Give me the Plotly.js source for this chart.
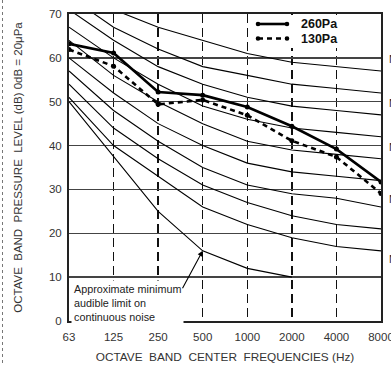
<!DOCTYPE html>
<html>
<head>
<meta charset="utf-8">
<script src="https://cdn.plot.ly/plotly-3.0.1.min.js"></script>
<style>html,body{margin:0;padding:0;background:#fff;}#chart{width:391px;height:365px;}</style>
</head>
<body>
<div id="chart"></div>
<script>
// Octave band centre frequencies (category labels)
const freqs = ['63', '125', '250', '500', '1000', '2000', '4000', '8000'];

// Noise criterion curves (dB)
const nc60 = [77, 71, 67, 64, 61, 59, 58, 57];
const nc55 = [74, 67, 62, 58, 56, 54, 53, 52];
const nc50 = [71, 64, 58, 54, 51, 49, 48, 47];
const nc45 = [67, 60, 54, 49, 46, 44, 43, 42];
const nc40 = [64, 56, 50, 45, 41, 39, 38, 37];
const nc35 = [60, 52, 45, 40, 36, 34, 33, 32];
const nc30 = [57, 48, 41, 35, 31, 29, 28, 26];
const nc25 = [54, 44, 37, 31, 27, 24, 22, 21];
const nc20 = [51, 40, 33, 26, 22, 19, 17, 16];
// Approximate minimum audible limit on continuous noise
const threshold = [50, 37.5, 25, 16, 12, 10, null, null];

// Measured spectra
const s260 = [63.2, 61.1, 52.2, 51.5, 48.8, 44.4, 39.2, 31.7];
const s130 = [61.9, 58.1, 49.4, 50.4, 46.9, 41.1, 37.4, 29.1];
const seriesNames = ['260Pa', '130Pa'];

const curveNames = ['NC-60', 'NC-55', 'NC-50', 'NC-45', 'NC-40', 'NC-35', 'NC-30', 'NC-25', 'NC-20', 'Threshold'];
const curves = [nc60, nc55, nc50, nc45, nc40, nc35, nc30, nc25, nc20, threshold];

// Side labels (clipped at right edge, as in the original)
const sideLabels = ['NC-60', 'NC-50', 'NC-40', 'NC-30', 'NC-20'];
const sideLabelY = [59.7, 49.7, 39.7, 27.8, 14.1];

const idx = freqs.map((f, i) => i);

const traces = curves.map((c, k) => ({
  x: idx, y: c, name: curveNames[k], type: 'scatter', mode: 'lines',
  line: {color: '#000', width: 1.1}, showlegend: false, hoverinfo: 'skip', connectgaps: false
}));

traces.push({
  x: idx, y: s260, name: seriesNames[0], type: 'scatter', mode: 'lines+markers', showlegend: false,
  line: {color: '#000', width: 2.6}, marker: {color: '#000', size: 5}
});
traces.push({
  x: idx, y: s130, name: seriesNames[1], type: 'scatter', mode: 'lines+markers', showlegend: false,
  line: {color: '#000', width: 2.6, dash: '5px,4px'}, marker: {color: '#000', size: 5}
});

const W = 391, H = 365, L = 69, R = 10, T = 14, B = 44;
const pw = W - L - R, ph = H - T - B;
const px2x = p => (p - L) / pw;
const py2y = p => (H - B - p) / ph;
const FONT = 'Arial, Liberation Sans, sans-serif';

const annotations = sideLabels.map((t, i) => ({
  xref: 'paper', yref: 'y', x: px2x(387), y: sideLabelY[i], text: t,
  showarrow: false, xanchor: 'left', yanchor: 'middle',
  font: {family: FONT, size: 11, color: '#222'}
}));
annotations.push({
  xref: 'paper', yref: 'paper', x: px2x(71), y: py2y(280), xanchor: 'left', yanchor: 'top',
  text: 'Approximate minimum<br>audible limit on<br>continuous noise', align: 'left', showarrow: false,
  bgcolor: '#fff', borderpad: 2,
  font: {family: FONT, size: 10.8, color: '#222'}
});
annotations.push({
  xref: 'x', yref: 'y', x: 3, y: threshold[3], text: '', showarrow: true,
  ax: -21, ay: 39, arrowhead: 2, arrowsize: 1, arrowwidth: 1.1, arrowcolor: '#000', standoff: 0
});

// Hand-drawn legend (key box, samples and labels)
const legY = [24, 38.5];
seriesNames.forEach((n, i) => {
  annotations.push({
    xref: 'paper', yref: 'paper', x: px2x(299), y: py2y(legY[i]), xanchor: 'left', yanchor: 'middle',
    text: n, showarrow: false, font: {family: FONT, size: 12.5, color: '#111', weight: 'bold'}
  });
});

const shapes = [
  {type: 'line', xref: 'paper', yref: 'paper', x0: px2x(2.5), x1: px2x(2.5), y0: py2y(0), y1: py2y(H),
   line: {color: '#777', width: 1, dash: 'dot'}},
  {type: 'rect', xref: 'paper', yref: 'paper', x0: px2x(250), x1: px2x(362), y0: py2y(15), y1: py2y(48),
   fillcolor: '#fff', line: {width: 0}, layer: 'above'},
  {type: 'line', xref: 'paper', yref: 'paper', x0: px2x(258), x1: px2x(287), y0: py2y(legY[0]), y1: py2y(legY[0]),
   line: {color: '#000', width: 2.6}, layer: 'above'},
  {type: 'line', xref: 'paper', yref: 'paper', x0: px2x(258), x1: px2x(287), y0: py2y(legY[1]), y1: py2y(legY[1]),
   line: {color: '#000', width: 2.6, dash: '5px,4px'}, layer: 'above'}
];
[258, 287].forEach(xp => legY.forEach(yp => shapes.push({
  type: 'circle', xref: 'paper', yref: 'paper', x0: px2x(xp - 2.3), x1: px2x(xp + 2.3),
  y0: py2y(yp - 2.3), y1: py2y(yp + 2.3), fillcolor: '#000', line: {width: 0}, layer: 'above'
})));

const layout = {
  width: W, height: H,
  margin: {l: L, r: R, t: T, b: B, pad: 0},
  paper_bgcolor: '#fff', plot_bgcolor: '#fff',
  font: {family: FONT, size: 12, color: '#333'},
  xaxis: {
    range: [0, 7], tickvals: idx, ticktext: freqs, showgrid: true,
    gridcolor: '#111', gridwidth: 1.3, griddash: '9px,5px',
    showline: true, mirror: true, linecolor: '#222', linewidth: 2,
    ticks: '', ticklabelstandoff: 4, ticklabeloverflow: 'allow', zeroline: false, fixedrange: true,
    tickfont: {size: 11.5, color: '#333'},
    title: {text: 'OCTAVE\u00a0\u00a0BAND\u00a0\u00a0CENTER\u00a0\u00a0FREQUENCIES (Hz)', standoff: 11,
            font: {size: 11.8, color: '#333'}}
  },
  yaxis: {
    range: [0, 70], dtick: 10, showgrid: true, gridcolor: '#444', gridwidth: 1.5,
    showline: true, mirror: true, linecolor: '#222', linewidth: 2,
    ticks: '', ticklabelstandoff: 3, zeroline: false, fixedrange: true,
    tickfont: {size: 11.5, color: '#333'},
    title: {text: 'OCTAVE\u00a0\u00a0BAND\u00a0\u00a0PRESSURE\u00a0\u00a0LEVEL (dB) 0dB = 20\u03bcPa', standoff: 24,
            font: {size: 11.5, color: '#333'}}
  },
  shapes: shapes,
  annotations: annotations,
  showlegend: false
};

Plotly.newPlot('chart', traces, layout, {displayModeBar: false, staticPlot: true});
</script>
</body>
</html>
